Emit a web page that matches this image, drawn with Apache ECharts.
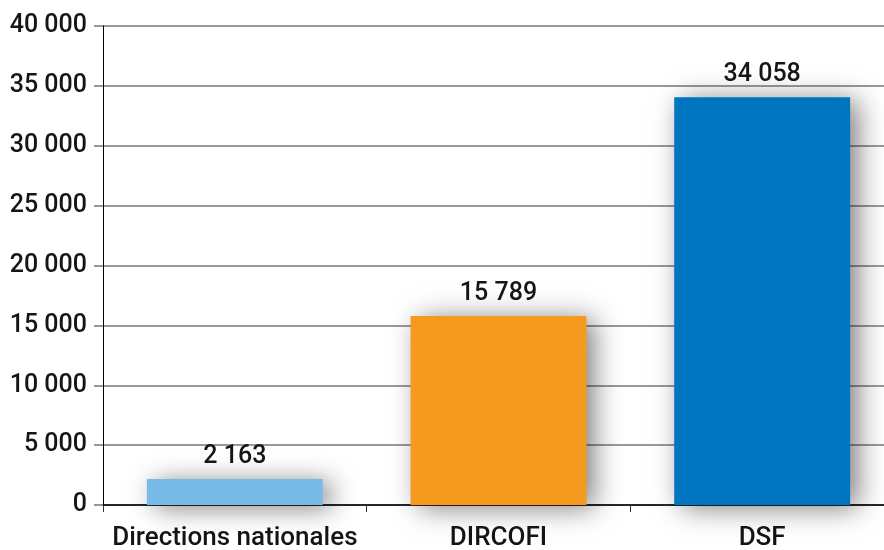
<!DOCTYPE html>
<html>
<head>
<meta charset="utf-8">
<script src="https://cdn.jsdelivr.net/npm/echarts@6/dist/echarts.min.js"></script>
<style>html,body{margin:0;padding:0;background:#fff;}#c{width:884px;height:550px;}</style>
</head>
<body>
<div id="c"></div>
<script>
const categories = ["Directions nationales", "DIRCOFI", "DSF"];
const values = [2163, 15789, 34058];
const barColors = ["#77BBE6", "#F6991F", "#0075BF"];
const yMin = 0, yMax = 40000, yInterval = 5000;

function fmt(v) {
  return String(v).replace(/\B(?=(\d{3})+(?!\d))/g, " ");
}
const FONT = "Roboto";
const chart = echarts.init(document.getElementById('c'), null, {renderer: 'canvas'});
chart.setOption({
  animation: false,
  backgroundColor: '#fff',
  grid: {left: 103, width: 791, top: 26, height: 479, containLabel: false, outerBoundsMode: 'none'},
  xAxis: {
    type: 'category',
    data: categories,
    axisLine: {show: true, lineStyle: {color: '#000', width: 1.5}},
    axisTick: {show: true, alignWithLabel: false, length: 7, lineStyle: {color: '#333', width: 1}},
    axisLabel: {color: '#151515', fontFamily: FONT, fontWeight: 500, fontSize: 26, margin: 20, interval: 0},
    splitLine: {show: false}
  },
  yAxis: {
    type: 'value',
    min: yMin, max: yMax, interval: yInterval,
    axisLine: {show: true, lineStyle: {color: '#000', width: 1}},
    axisTick: {show: true, length: 9, lineStyle: {color: '#777', width: 1.5}},
    axisLabel: {color: '#151515', fontFamily: FONT, fontWeight: 500, fontSize: 25, margin: 16, formatter: v => fmt(v)},
    splitLine: {show: true, lineStyle: {color: '#777', width: 1.5}}
  },
  series: [{
    type: 'bar',
    barWidth: '66.7%',
    data: values.map((v, i) => ({value: v, itemStyle: {color: barColors[i]}})),
    itemStyle: {shadowBlur: 26, shadowColor: 'rgba(0,0,0,0.5)', shadowOffsetX: 8, shadowOffsetY: 3},
    label: {show: true, position: 'top', distance: 10, color: '#151515', fontFamily: FONT, fontWeight: 500, fontSize: 25, formatter: p => fmt(p.value)}
  }]
});
</script>
</body>
</html>
